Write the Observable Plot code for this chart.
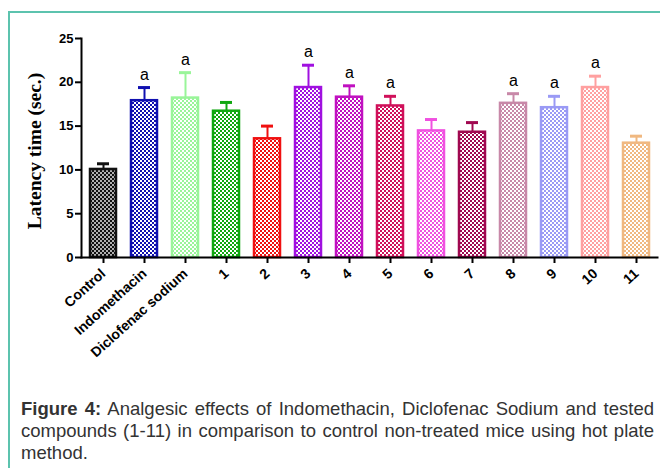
<!DOCTYPE html>
<html><head><meta charset="utf-8">
<script src="https://cdn.jsdelivr.net/npm/d3@7"></script>
<script src="https://cdn.jsdelivr.net/npm/@observablehq/plot@0.6"></script>
<style>
body{margin:0;background:#fff;width:660px;height:468px;overflow:hidden;position:relative;font-family:"Liberation Sans",Arial,sans-serif}
#frame{position:absolute;left:8px;top:11px;right:-10px;bottom:-10px;border-left:2px solid #5cc3ae;border-top:2px solid #5cc3ae}
#chart{position:absolute;left:0;top:0}
#caption{position:absolute;left:21px;top:398px;width:633px;font-size:18.5px;line-height:22px;color:#333}
#caption div.j{text-align:justify;text-align-last:justify;white-space:nowrap}
</style></head><body>
<div id="frame"></div><div id="chart"></div>
<div id="caption"><div class="j"><b>Figure 4:</b> Analgesic effects of Indomethacin, Diclofenac Sodium and tested</div><div class="j">compounds (1-11) in comparison to control non-treated mice using hot plate</div><div>method.</div></div>
<script>
const groups = ["Control","Indomethacin","Diclofenac sodium","1","2","3","4","5","6","7","8","9","10","11"];
const means  = [10.05,17.9,18.2,16.7,13.55,19.4,18.3,17.3,14.45,14.3,17.6,17.1,19.4,13.05];
const errors = [0.65,1.5,2.9,1.0,1.45,2.55,1.3,1.1,1.3,1.1,1.1,1.3,1.3,0.8];
const sig    = ["","a","a","","","a","a","a","","","a","a","a",""];
const colors = ["#111111","#1010b0","#99f599","#10a810","#f01010","#a010e0","#c010c0","#d0105a","#f050e0","#a00850","#c888a8","#9a9af5","#ffa0a0","#f0b880"];
const cellColors = ["#b0b0b0","#ffffff","#ffffff","#ffffff","#ffffff","#ffffff","#ffffff","#ffffff","#ffffff","#ffffff","#ffffff","#ffffff","#ffffff","#ffffff"];
const yTicks = [0,5,10,15,20,25];
const yLabel = "Latency time (sec.)";

const data = groups.map((g,i)=>({g, mean:means[i], upper:means[i]+errors[i], sig:sig[i], color:colors[i], pat:`url(#pat${i})`}));

const plot = Plot.plot({
  width:660, height:380, marginTop:38, marginBottom:123, marginLeft:81, marginRight:3,
  style:{fontFamily:"'Liberation Sans', Arial, sans-serif", background:"transparent", overflow:"visible", color:"#000"},
  x:{domain:groups, paddingInner:0.37, paddingOuter:0.185},
  y:{domain:[0,25]},
  color:{type:"identity"},
  marks:[
    Plot.ruleX(data,{x:"g", y1:"mean", y2:"upper", stroke:"color", strokeWidth:2}),
    Plot.tickY(data,{x:"g", y:"upper", stroke:"color", strokeWidth:3, insetLeft:7, insetRight:7}),
    Plot.barY(data,{x:"g", y:"mean", fill:"pat", stroke:"color", strokeWidth:2.5}),
    Plot.text(data.filter(d=>d.sig),{x:"g", y:"upper", text:"sig", dy:-13, fontSize:16}),
    Plot.axisY({ticks:yTicks, tickSize:6, tickPadding:2, fontSize:13, fontWeight:"bold", label:null, strokeWidth:2}),
    Plot.axisX({tickSize:6, tickRotate:-42, fontSize:14, fontWeight:"bold", label:null, tickPadding:8, strokeWidth:2}),
    Plot.frame({anchor:"left", strokeWidth:2}),
    Plot.frame({anchor:"bottom", strokeWidth:2}),
    Plot.text([yLabel], {frameAnchor:"left", textAnchor:"middle", rotate:-90, dx:-47, dy:3, fontSize:19.5, fontWeight:"bold", fontFamily:"'Liberation Serif', serif"})
  ]
});

const defs = d3.select(plot).insert("defs", ":first-child");
colors.forEach((c,i)=>{
  const p = defs.append("pattern").attr("id",`pat${i}`).attr("patternUnits","userSpaceOnUse").attr("width",4).attr("height",4);
  p.append("rect").attr("width",4).attr("height",4).attr("fill",c);
  p.append("rect").attr("x",0).attr("y",0).attr("width",2).attr("height",2).attr("fill",cellColors[i]);
  p.append("rect").attr("x",2).attr("y",2).attr("width",2).attr("height",2).attr("fill",cellColors[i]);
});
document.getElementById("chart").appendChild(plot);
</script>
</body></html>
